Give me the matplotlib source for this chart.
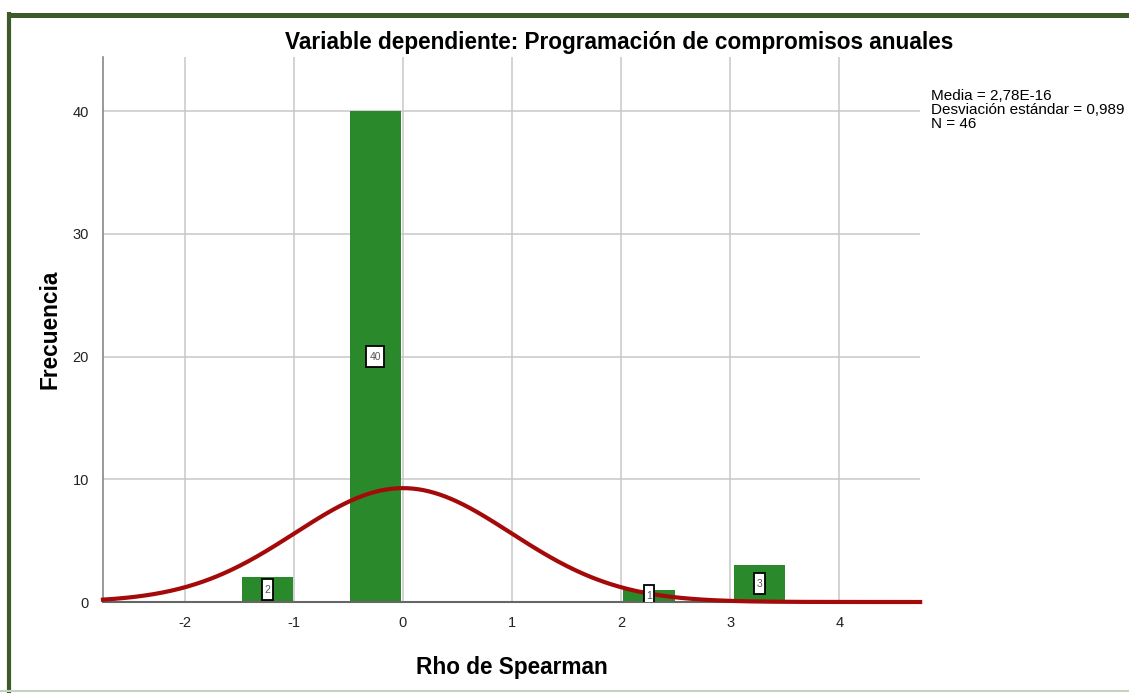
import numpy as np
import matplotlib
matplotlib.use("Agg")
import matplotlib.pyplot as plt
from matplotlib.lines import Line2D
from matplotlib.patches import Rectangle

plt.rcParams["font.family"] = ["Liberation Sans", "DejaVu Sans"]
plt.rcParams["axes.unicode_minus"] = False

# histogram bins (left edge) and counts
bin_lefts = [-1.48, -0.49, 2.02, 3.03]
bin_width = 0.47
counts = [2, 40, 1, 3]

# normal curve parameters
mean = 2.78e-16
std = 0.989
n_total = 46
curve_bin = 0.5

x_ticks = [-2, -1, 0, 1, 2, 3, 4]
y_ticks = [0, 10, 20, 30, 40]

bar_color = "#2a892a"
curve_color = "#a50a0a"
grid_color = "#c8c8c8"

fig = plt.figure(figsize=(11.29, 6.93), dpi=100, facecolor="white")

# outer frame (dark green top/left, light bottom)
fig.add_artist(Line2D([0.0071, 1.0], [0.9790, 0.9790], transform=fig.transFigure,
                      color="#3d5a28", lw=3.6, solid_capstyle="butt"))
fig.add_artist(Line2D([0.0080, 0.0080], [0.9820, 0.0], transform=fig.transFigure,
                      color="#3d5a28", lw=3.0, solid_capstyle="butt"))
fig.add_artist(Line2D([0.0, 1.0], [0.0030, 0.0030], transform=fig.transFigure,
                      color="#c4d4bc", lw=1.5))

ax = fig.add_axes([0.0912, 0.1313, 0.7238, 0.7864])
ax.set_xlim(-2.75, 4.74)
ax.set_ylim(0, 44.4)

ax.set_xticks(x_ticks)
ax.set_yticks(y_ticks)
ax.grid(True, color=grid_color, lw=1.1)
ax.set_axisbelow(True)
ax.tick_params(length=0, labelsize=10.5, pad=10, colors="#222222")
for side in ["top", "right"]:
    ax.spines[side].set_visible(False)
ax.spines["left"].set_color("#888888")
ax.spines["bottom"].set_color("#666666")
ax.spines["left"].set_linewidth(1.2)
ax.spines["bottom"].set_linewidth(1.5)

ax.bar(bin_lefts, counts, width=bin_width, align="edge", color=bar_color, zorder=2)

xs = np.linspace(-2.75, 4.74, 600)
ys = n_total * curve_bin / (std * np.sqrt(2 * np.pi)) * np.exp(-0.5 * ((xs - mean) / std) ** 2)
ax.plot(xs, ys, color=curve_color, lw=3.0, zorder=4, clip_on=False)

# count labels in small white boxes
for left, c in zip(bin_lefts, counts):
    cx = left + bin_width / 2
    cy = c / 2
    bw = 0.10 if c < 10 else 0.16
    bh = 1.7
    ax.add_patch(Rectangle((cx - bw / 2, cy - bh / 2), bw, bh, fc="white", ec="black",
                           lw=1.3, zorder=5))
    ax.text(cx, cy, str(c), ha="center", va="center", fontsize=7.5, color="#555555", zorder=6)

fig.text(0.548, 0.938, "Variable dependiente: Programación de compromisos anuales",
         fontsize=16.3, fontweight="bold", ha="center", va="center")
ax.set_xlabel("Rho de Spearman", fontsize=16.3, fontweight="bold", labelpad=19)
ax.set_ylabel("Frecuencia", fontsize=16.3, fontweight="bold", labelpad=8)

fig.text(0.8246, 0.841,
         f"Media = 2,78E-16\nDesviación estándar = {std:.3f}".replace(".", ",") + f"\nN = {n_total}",
         fontsize=11, va="center", ha="left", linespacing=1.0)

fig.savefig("out.png", dpi=100, facecolor="white")
